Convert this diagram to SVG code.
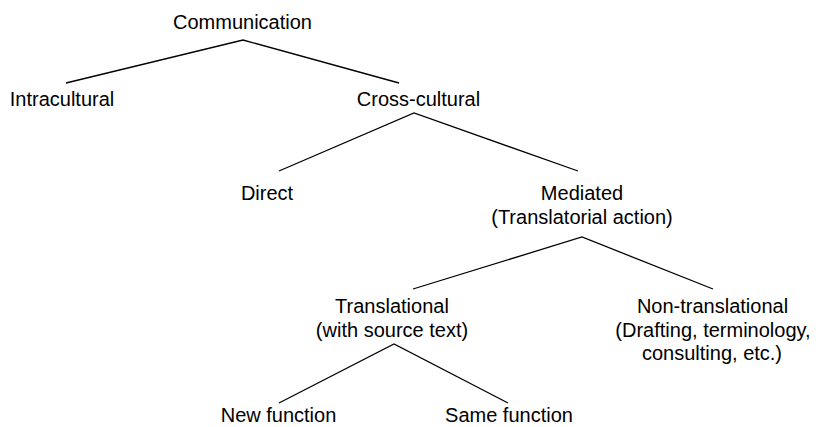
<svg xmlns="http://www.w3.org/2000/svg" width="816" height="427" viewBox="0 0 816 427">
<style>
text{font-family:"Liberation Sans",Arial,Helvetica,sans-serif;font-size:20px;fill:#000;text-anchor:middle}
.e{stroke:#000;stroke-width:1.3;fill:none}
</style>
<rect width="816" height="427" fill="#fff"/>
<g id="connectors">
<path class="e" d="M66,83 L243,40 L399,83"/>
<path class="e" d="M279,171 L414,113 L578,171"/>
<path class="e" d="M413,289 L582,237 L713,289"/>
<path class="e" d="M279,403 L394,344 L508,403"/>
</g>
<g id="communication"><text x="242.5" y="29">Communication</text></g>
<g id="intracultural"><text x="62" y="106">Intracultural</text></g>
<g id="cross-cultural"><text x="418.5" y="106">Cross-cultural</text></g>
<g id="direct"><text x="267" y="200">Direct</text></g>
<g id="mediated"><text x="582" y="200">Mediated</text><text x="582" y="224">(Translatorial action)</text></g>
<g id="translational"><text x="392" y="313">Translational</text><text x="392" y="337">(with source text)</text></g>
<g id="non-translational"><text x="712.5" y="313">Non-translational</text><text x="713" y="337">(Drafting, terminology,</text><text x="712" y="360">consulting, etc.)</text></g>
<g id="new-function"><text x="278.5" y="422">New function</text></g>
<g id="same-function"><text x="509" y="422">Same function</text></g>
</svg>
